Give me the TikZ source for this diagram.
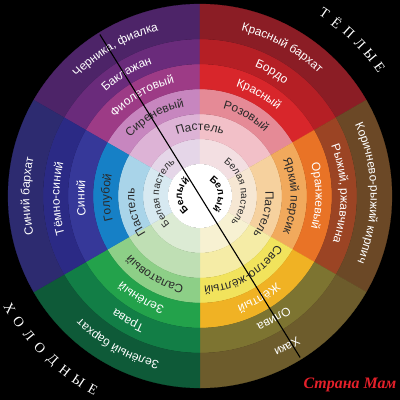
\documentclass[tikz,border=0pt]{standalone}
\usepackage{fontspec}
\setmainfont{Liberation Sans}
\newfontfamily\serifcyr{Liberation Serif}
\usetikzlibrary{decorations.text}

% violet
\definecolor{colVa}{HTML}{E5D6E8}\definecolor{colVb}{HTML}{DDB3D6}\definecolor{colVc}{HTML}{C786BF}
\definecolor{colVd}{HTML}{9D3B86}\definecolor{colVe}{HTML}{6A2B7B}\definecolor{colVf}{HTML}{4D2468}
% red
\definecolor{colRa}{HTML}{F3DFE2}\definecolor{colRb}{HTML}{F2C0C8}\definecolor{colRc}{HTML}{E58A96}
\definecolor{colRd}{HTML}{D8262B}\definecolor{colRe}{HTML}{B51F25}\definecolor{colRf}{HTML}{8B1D25}
% orange
\definecolor{colOa}{HTML}{F6E7D3}\definecolor{colOb}{HTML}{F6D19E}\definecolor{colOc}{HTML}{F1A95C}
\definecolor{colOd}{HTML}{E97326}\definecolor{colOe}{HTML}{9B4424}\definecolor{colOf}{HTML}{6B4826}
% yellow
\definecolor{colYa}{HTML}{F7F1D2}\definecolor{colYb}{HTML}{F5ECA6}\definecolor{colYc}{HTML}{F1E35C}
\definecolor{colYd}{HTML}{F0B224}\definecolor{colYe}{HTML}{7D7431}\definecolor{colYf}{HTML}{6D5C2C}
% green
\definecolor{colGa}{HTML}{DCEBD4}\definecolor{colGb}{HTML}{BFDFB4}\definecolor{colGc}{HTML}{8DCF87}
\definecolor{colGd}{HTML}{23A24B}\definecolor{colGe}{HTML}{127E46}\definecolor{colGf}{HTML}{0E5A38}
% blue
\definecolor{colBa}{HTML}{D7E9F1}\definecolor{colBb}{HTML}{A9D4E9}\definecolor{colBc}{HTML}{1680C6}
\definecolor{colBd}{HTML}{363899}\definecolor{colBe}{HTML}{2B2A85}\definecolor{colBf}{HTML}{2D2B70}
\definecolor{darktxt}{HTML}{2A2A2A}
\definecolor{wmred}{HTML}{E3202A}

% text along a clockwise arc, letter tops outward
\newcommand\arctext[5]{%
  \path[decorate,decoration={text along path,text align=center,
    text={|\fontsize{#3}{#3}\selectfont\color{#4}|#5}}]
    ({#1+80}:#2bp) arc[start angle={#1+80}, end angle={#1-80}, radius=#2bp];}
\newcommand\arctextbold[5]{%
  \path[decorate,decoration={text along path,text align=center,
    text={|\fontsize{#3}{#3}\selectfont\bfseries\color{#4}|#5}}]
    ({#1+85}:#2bp) arc[start angle={#1+85}, end angle={#1-85}, radius=#2bp];}

\tikzset{
  sidetitle/.style={text=white,font=\serifcyr\fontsize{14}{14}\selectfont,inner sep=0pt},
  wmark/.style={text=wmred,font=\serifcyr\bfseries\itshape\fontsize{16}{16}\selectfont,inner sep=0pt},
  divline/.style={draw=black,line width=1.1bp}
}

\begin{document}
\begin{tikzpicture}[x=1bp,y=1bp]
\useasboundingbox (-200,-204) rectangle (200,196);
\fill[black] (-200,-204) rectangle (200,196);

% sectors
\foreach \s/\c in {V/120,R/60,O/0,Y/-60,G/-120,B/180}{
  \foreach \r/\ri/\ro in {a/32/57,b/57/82,c/82/107,d/107/132,e/132/157,f/157/192}{
    \fill[col\s\r,draw=col\s\r,line width=0.2bp]
      ({\c+30}:\ri bp) arc[start angle={\c+30}, end angle={\c-30}, radius=\ri bp]
      -- ({\c-30}:\ro bp) arc[start angle={\c-30}, end angle={\c+30}, radius=\ro bp] -- cycle;
  }
}
\fill[white] (0,0) circle[radius=32bp];

% violet
\arctext{120}{170.5}{12}{white}{Черника, фиалка}
\arctext{121}{140.5}{12}{white}{Баклажан}
\arctext{120}{115.5}{12}{white}{Фиолетовый}
\arctext{120}{90.5}{12}{darktxt}{Сиреневый}
\arctext{90}{65.5}{12}{darktxt}{Пастель}
% red
\arctext{61}{170.5}{12}{white}{Красный бархат}
\arctext{60}{140.5}{12}{white}{Бордо}
\arctext{60}{115.5}{12}{white}{Красный}
\arctext{60}{90.5}{12}{darktxt}{Розовый}
% orange
\arctext{1}{170.5}{12}{white}{Коричнево-рыжий кирпич}
\arctext{1}{140.5}{12}{white}{Рыжий, ржавчина}
\arctext{0}{115.5}{12}{white}{Оранжевый}
\arctext{0}{90.5}{12}{darktxt}{Яркий персик}
\arctext{-16}{65.5}{12}{darktxt}{Пастель}
% yellow
\arctext{-60}{170.5}{12}{white}{Хаки}
\arctext{-59}{140.5}{12}{white}{Олива}
\arctext{-60}{115.5}{12}{white}{Жёлтый}
\arctext{-60}{90.5}{12}{darktxt}{Светло-жёлтый}
% green
\arctext{-119}{170.5}{12}{white}{Зелёный бархат}
\arctext{-120}{140.5}{12}{white}{Трава}
\arctext{-120}{115.5}{12}{white}{Зелёный}
\arctext{-120}{90.5}{12}{darktxt}{Салатовый}
% blue
\arctext{180}{170.5}{12}{white}{Синий бархат}
\arctext{181}{140.5}{12}{white}{Тёмно-синий}
\arctext{181}{115.5}{12}{white}{Синий}
\arctext{181}{90.5}{12}{darktxt}{Голубой}
\arctext{194}{65.5}{12}{darktxt}{Пастель}
% white pastel ring
\arctext{175}{41}{10}{darktxt}{Белая пастель}
\arctext{7}{41}{10}{darktxt}{Белая пастель}
% centre
\arctextbold{178}{18}{10}{black}{Белый}
\arctextbold{7}{18}{10}{black}{Белый}

% diagonal line
\coordinate (lineA) at (121.8:190bp);
\coordinate (lineB) at (-58.2:190bp);
\draw[divline] (lineA) -- (lineB);

% side titles
\foreach \l [count=\i from 0] in {Т,Ё,П,Л,Ы,Е}{
  \node[sidetitle,rotate={55.7-4.02*\i-90}] (warm\i) at ({55.7-4.02*\i}:221bp) {\l};
}
\foreach \l [count=\i from 0] in {Х,О,Л,О,Д,Н,Ы,Е}{
  \node[sidetitle,rotate={210.5+4.36*\i+90}] (cold\i) at ({210.5+4.36*\i}:221bp) {\l};
}

% watermark
\node[wmark] (wm) at (150,-189) {Страна Мам};
\end{tikzpicture}
\end{document}
